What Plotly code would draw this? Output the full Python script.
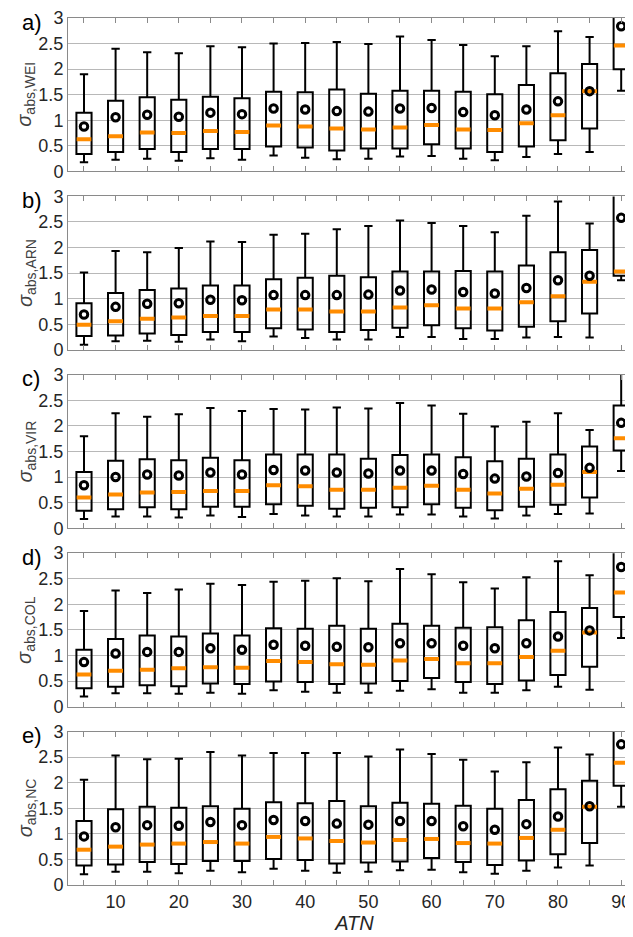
import plotly.graph_objects as go
from plotly.subplots import make_subplots

atn = [5, 10, 15, 20, 25, 30, 35, 40, 45, 50, 55, 60, 65, 70, 75, 80, 85, 90]
x_tick_text = ["", "10", "", "20", "", "30", "", "40", "", "50", "", "60", "", "70", "", "80", "", "90"]
y_ticks = [0, 0.5, 1, 1.5, 2, 2.5, 3]

# a) WEI
wei_lower = [0.18, 0.23, 0.25, 0.21, 0.26, 0.23, 0.31, 0.27, 0.24, 0.25, 0.29, 0.30, 0.25, 0.22, 0.28, 0.34, 0.38, 1.58]
wei_q1 = [0.34, 0.38, 0.44, 0.38, 0.44, 0.44, 0.49, 0.47, 0.41, 0.45, 0.45, 0.53, 0.45, 0.38, 0.49, 0.61, 0.84, 2.00]
wei_median = [0.63, 0.69, 0.76, 0.75, 0.79, 0.77, 0.90, 0.88, 0.84, 0.82, 0.86, 0.91, 0.82, 0.81, 0.94, 1.10, 1.57, 2.46]
wei_q3 = [1.15, 1.38, 1.45, 1.40, 1.46, 1.43, 1.56, 1.55, 1.60, 1.52, 1.58, 1.58, 1.56, 1.51, 1.69, 1.92, 2.10, 3.20]
wei_upper = [1.90, 2.40, 2.33, 2.31, 2.45, 2.43, 2.50, 2.51, 2.53, 2.49, 2.64, 2.57, 2.47, 2.25, 2.45, 2.74, 2.63, 3.60]
wei_mean = [0.88, 1.06, 1.11, 1.07, 1.15, 1.12, 1.23, 1.21, 1.18, 1.17, 1.23, 1.24, 1.16, 1.10, 1.21, 1.37, 1.57, 2.84]

# b) ARN
arn_lower = [0.10, 0.17, 0.18, 0.16, 0.20, 0.17, 0.26, 0.23, 0.20, 0.20, 0.25, 0.25, 0.21, 0.21, 0.24, 0.25, 0.24, 1.36]
arn_q1 = [0.27, 0.28, 0.32, 0.29, 0.35, 0.35, 0.42, 0.40, 0.35, 0.39, 0.43, 0.48, 0.42, 0.38, 0.45, 0.56, 0.71, 1.45]
arn_median = [0.49, 0.56, 0.61, 0.63, 0.66, 0.66, 0.79, 0.79, 0.75, 0.75, 0.83, 0.87, 0.81, 0.81, 0.93, 1.05, 1.33, 1.53]
arn_q3 = [0.91, 1.11, 1.17, 1.20, 1.26, 1.26, 1.38, 1.41, 1.45, 1.42, 1.53, 1.53, 1.54, 1.53, 1.65, 1.91, 1.95, 3.20]
arn_upper = [1.51, 1.93, 1.91, 1.99, 2.12, 2.11, 2.25, 2.27, 2.36, 2.42, 2.53, 2.48, 2.42, 2.30, 2.62, 2.90, 2.47, 3.60]
arn_mean = [0.69, 0.84, 0.90, 0.91, 0.98, 0.97, 1.07, 1.07, 1.07, 1.08, 1.16, 1.18, 1.13, 1.10, 1.21, 1.36, 1.45, 2.58]

# c) VIR
vir_lower = [0.18, 0.23, 0.23, 0.21, 0.25, 0.22, 0.28, 0.25, 0.23, 0.23, 0.27, 0.27, 0.23, 0.19, 0.25, 0.28, 0.29, 1.12]
vir_q1 = [0.34, 0.37, 0.41, 0.37, 0.42, 0.42, 0.47, 0.44, 0.38, 0.40, 0.41, 0.47, 0.40, 0.35, 0.42, 0.46, 0.60, 1.52]
vir_median = [0.60, 0.66, 0.70, 0.71, 0.73, 0.73, 0.84, 0.82, 0.75, 0.75, 0.79, 0.83, 0.75, 0.68, 0.77, 0.85, 1.10, 1.76]
vir_q3 = [1.10, 1.32, 1.35, 1.33, 1.38, 1.33, 1.44, 1.44, 1.44, 1.36, 1.43, 1.44, 1.39, 1.31, 1.36, 1.44, 1.60, 2.40]
vir_upper = [1.80, 2.25, 2.18, 2.23, 2.35, 2.29, 2.33, 2.32, 2.36, 2.34, 2.45, 2.40, 2.24, 1.99, 2.08, 2.25, 1.92, 3.05]
vir_mean = [0.84, 1.00, 1.05, 1.03, 1.09, 1.05, 1.14, 1.13, 1.09, 1.07, 1.13, 1.13, 1.06, 0.97, 1.01, 1.08, 1.18, 2.06]

# d) COL
col_lower = [0.20, 0.26, 0.26, 0.25, 0.27, 0.25, 0.32, 0.29, 0.27, 0.27, 0.31, 0.34, 0.27, 0.27, 0.32, 0.39, 0.33, 1.34]
col_q1 = [0.36, 0.39, 0.42, 0.40, 0.45, 0.44, 0.49, 0.48, 0.44, 0.45, 0.50, 0.56, 0.48, 0.44, 0.51, 0.62, 0.78, 1.75]
col_median = [0.63, 0.70, 0.72, 0.75, 0.77, 0.76, 0.89, 0.87, 0.83, 0.82, 0.90, 0.93, 0.85, 0.85, 0.97, 1.09, 1.45, 2.23]
col_q3 = [1.11, 1.32, 1.39, 1.37, 1.43, 1.39, 1.53, 1.52, 1.58, 1.52, 1.62, 1.58, 1.54, 1.55, 1.69, 1.85, 1.93, 3.20]
col_upper = [1.87, 2.27, 2.22, 2.29, 2.40, 2.38, 2.44, 2.46, 2.51, 2.45, 2.69, 2.59, 2.43, 2.31, 2.53, 2.84, 2.57, 3.60]
col_mean = [0.87, 1.04, 1.07, 1.07, 1.14, 1.11, 1.21, 1.19, 1.17, 1.16, 1.24, 1.24, 1.19, 1.14, 1.24, 1.37, 1.49, 2.73]

# e) NC
nc_lower = [0.21, 0.26, 0.26, 0.23, 0.28, 0.25, 0.32, 0.28, 0.24, 0.26, 0.29, 0.30, 0.25, 0.22, 0.28, 0.34, 0.38, 1.53]
nc_q1 = [0.38, 0.40, 0.45, 0.41, 0.47, 0.47, 0.51, 0.49, 0.42, 0.44, 0.46, 0.53, 0.45, 0.39, 0.48, 0.60, 0.82, 1.94]
nc_median = [0.69, 0.75, 0.79, 0.81, 0.84, 0.81, 0.94, 0.91, 0.86, 0.83, 0.88, 0.90, 0.82, 0.81, 0.92, 1.08, 1.53, 2.39]
nc_q3 = [1.25, 1.48, 1.53, 1.51, 1.54, 1.49, 1.62, 1.60, 1.64, 1.54, 1.61, 1.59, 1.55, 1.49, 1.66, 1.87, 2.04, 3.20]
nc_upper = [2.06, 2.53, 2.46, 2.47, 2.60, 2.53, 2.58, 2.58, 2.58, 2.51, 2.65, 2.56, 2.45, 2.22, 2.40, 2.69, 2.55, 3.60]
nc_mean = [0.95, 1.13, 1.17, 1.16, 1.23, 1.17, 1.27, 1.25, 1.20, 1.18, 1.25, 1.25, 1.15, 1.08, 1.19, 1.34, 1.54, 2.75]

panels = [
    ("a)", "abs,WEI", wei_lower, wei_q1, wei_median, wei_q3, wei_upper, wei_mean),
    ("b)", "abs,ARN", arn_lower, arn_q1, arn_median, arn_q3, arn_upper, arn_mean),
    ("c)", "abs,VIR", vir_lower, vir_q1, vir_median, vir_q3, vir_upper, vir_mean),
    ("d)", "abs,COL", col_lower, col_q1, col_median, col_q3, col_upper, col_mean),
    ("e)", "abs,NC", nc_lower, nc_q1, nc_median, nc_q3, nc_upper, nc_mean),
]

FONT = "Liberation Sans, Arial, sans-serif"
ORANGE = "#FF8C00"
GRID = "#b8b8b8"
AXIS = "#8a8a8a"
TXT = "#262626"

# page body has an 8px margin; compensate so the plot lands where the reference has it
ML, MT, MB = 60, 8, 60
PLOT_W = 633 - ML
PX_PER_UNIT = 6.32
X0 = 2.47
X1 = X0 + PLOT_W / PX_PER_UNIT

fig = make_subplots(rows=5, cols=1, vertical_spacing=25 / 869)


def px_to_paper(px):
    return (px - 8 - ML) / PLOT_W


annotations = []
for i, (lab, sub, lo, q1, med, q3, up, mn) in enumerate(panels):
    r = i + 1
    fig.add_trace(go.Box(
        x=atn, q1=q1, median=med, q3=q3, lowerfence=lo, upperfence=up,
        width=2.4, whiskerwidth=0.55, boxpoints=False,
        line=dict(color="black", width=2), fillcolor="rgba(0,0,0,0)",
        showlegend=False, hoverinfo="skip"), row=r, col=1)
    fig.add_trace(go.Scatter(
        x=atn, y=med, mode="markers", showlegend=False, hoverinfo="skip",
        marker=dict(symbol="line-ew", size=10.5, color=ORANGE,
                    line=dict(color=ORANGE, width=4))), row=r, col=1)
    fig.add_trace(go.Scatter(
        x=atn, y=mn, mode="markers", showlegend=False, hoverinfo="skip",
        marker=dict(symbol="circle-open", size=7.5, color="black",
                    line=dict(color="black", width=3))), row=r, col=1)
    yd = "y domain" if r == 1 else f"y{r} domain"
    annotations.append(dict(text=lab, xref="paper", x=px_to_paper(20), xanchor="left",
                            yref=yd, y=1.0, yanchor="middle", yshift=-4, showarrow=False,
                            font=dict(family=FONT, size=22, color="black")))
    annotations.append(dict(text=f"<i>σ</i><sub>{sub}</sub>", textangle=-90,
                            xref="paper", x=px_to_paper(26), xanchor="center",
                            yref=yd, y=0.5, yanchor="middle", showarrow=False,
                            font=dict(family=FONT, size=20, color="#404040")))

for r in range(1, 6):
    fig.update_xaxes(range=[X0, X1], tickmode="array", tickvals=atn,
                     ticktext=x_tick_text, showticklabels=(r == 5),
                     ticks="inside", ticklen=5, tickcolor=AXIS, tickwidth=1,
                     showline=True, linecolor=AXIS, linewidth=1, mirror="ticks",
                     showgrid=False, zeroline=False,
                     tickfont=dict(family=FONT, size=18, color=TXT),
                     row=r, col=1)
    fig.update_yaxes(range=[0, 3], tickmode="array", tickvals=y_ticks,
                     ticktext=["0", "0.5", "1", "1.5", "2", "2.5", "3"],
                     ticks="", showline=True, linecolor=AXIS, linewidth=1,
                     showgrid=True, gridcolor=GRID, gridwidth=1, zeroline=False,
                     tickfont=dict(family=FONT, size=18, color=TXT),
                     row=r, col=1)

fig.update_xaxes(title=dict(text="<i>ATN</i>", font=dict(family=FONT, size=20, color=TXT),
                            standoff=2), row=5, col=1)

fig.update_layout(width=633, height=937, margin=dict(l=ML, r=0, t=MT, b=MB),
                  plot_bgcolor="white", paper_bgcolor="white",
                  annotations=annotations, font=dict(family=FONT),
                  boxmode="overlay")

fig.write_html("out.html")
